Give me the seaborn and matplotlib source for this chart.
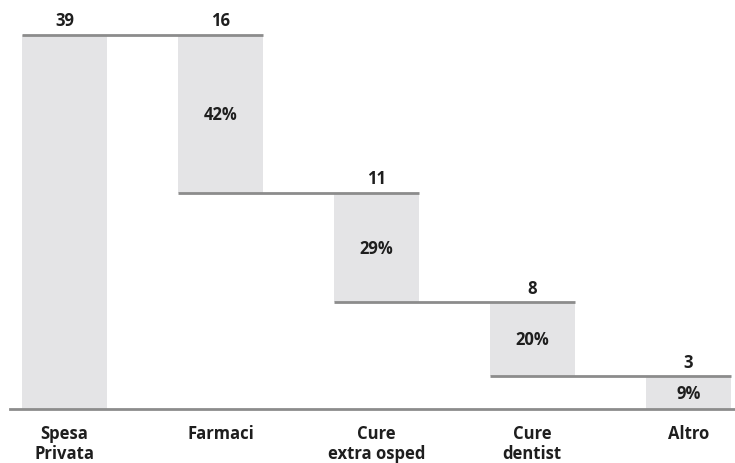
import numpy as np
import matplotlib
matplotlib.use("Agg")
import matplotlib.pyplot as plt
import seaborn as sns

# Private health spending breakdown (billions of euro)
categories = ["Spesa\nPrivata", "Farmaci", "Cure\nextra osped", "Cure\ndentist", "Altro"]
total = 38.9
components = [16.4, 11.4, 7.7, 3.4]

sns.set_theme(style="white")
plt.rcParams["font.family"] = ["Open Sans", "DejaVu Sans"]

bar_color = "#e4e4e6"
line_color = "#8c8c8c"
text_color = "#1e1e1e"

# Stack components down from the total: first component sits on top
heights = [total] + components
tops = [total] + list(total - np.cumsum([0] + components[:-1]))
bottoms = [0.0] + list(total - np.cumsum(components))
bottoms[-1] = max(bottoms[-1], 0.0)
shares = [None] + [round(100 * c / total) for c in components]

fig = plt.figure(figsize=(7.35, 4.64), dpi=100)
ax = fig.add_axes([10 / 735, 54 / 464, 725 / 735, 410 / 464])

x = np.arange(len(categories))
width = 0.545
ax.bar(x, [t - b for t, b in zip(tops, bottoms)], bottom=bottoms, width=width,
       color=bar_color, edgecolor="none", zorder=1)

# Connector lines at the top of each bar, reaching back to the previous bar
for i in range(1, len(categories)):
    ax.hlines(tops[i], x[i - 1] - width / 2, x[i] + width / 2,
              color=line_color, linewidth=2, zorder=2)

# Value labels above bars, shares inside bars
for i in range(len(categories)):
    ax.annotate(f"{heights[i]:.0f}", (x[i], tops[i]), xytext=(0, 7),
                textcoords="offset points", ha="center", va="baseline",
                fontsize=12, fontweight="bold", color=text_color)
    if shares[i] is not None:
        ax.text(x[i], (tops[i] + bottoms[i]) / 2, f"{shares[i]}%",
                ha="center", va="center", fontsize=12, fontweight="bold",
                color=text_color)

ax.set_xlim(-0.35, 4.3)
ax.set_ylim(0, 42.66)
ax.set_xticks(x)
ax.set_xticklabels(categories, fontsize=12, fontweight="bold", color=text_color,
                   linespacing=1.2)
ax.tick_params(axis="x", length=0, pad=10.5)
ax.set_yticks([])
for side in ["top", "right", "left"]:
    ax.spines[side].set_visible(False)
ax.spines["bottom"].set_color(line_color)
ax.spines["bottom"].set_linewidth(2)

fig.savefig("out.png", dpi=100)
